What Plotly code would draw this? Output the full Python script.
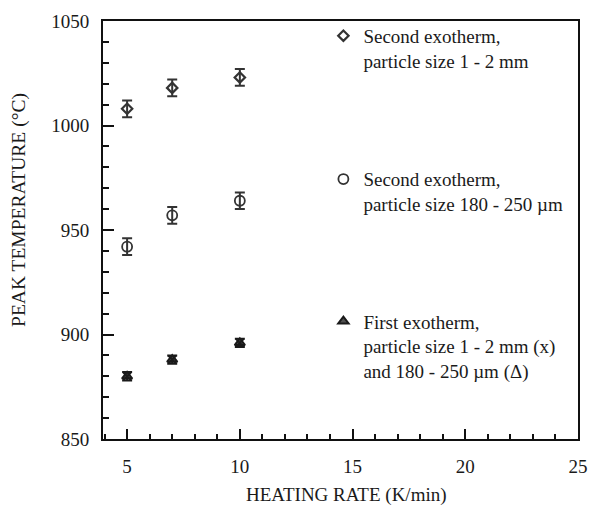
import plotly.graph_objects as go

heating_rate = [5, 7, 10]
second_1_2mm = [1008, 1018, 1023]
second_1_2mm_err = [4, 4, 4]
second_180_250um = [942, 957, 964]
second_180_250um_err = [4, 4, 4]
first_1_2mm = [880, 888, 896]
first_180_250um = [880, 888, 896]
first_err = [2, 2, 2]

name_a = "Second exotherm,<br>particle size 1 - 2 mm"
name_b = "Second exotherm,<br>particle size 180 - 250 µm"
name_c = "First exotherm,<br>particle size 1 - 2 mm (x)<br>and 180 - 250 µm (Δ)"
x_title = "HEATING RATE (K/min)"
y_title = "PEAK TEMPERATURE (°C)"

FONT = "Liberation Serif, Times New Roman, serif"
MK = "#333333"

fig = go.Figure()
fig.add_trace(go.Scatter(
    x=heating_rate, y=second_1_2mm, mode="markers", name=name_a,
    marker=dict(symbol="diamond-open", size=8, color=MK, line=dict(width=2.2, color=MK)),
    error_y=dict(type="data", array=second_1_2mm_err, color=MK, thickness=2, width=5),
    legend="legend"))
fig.add_trace(go.Scatter(
    x=heating_rate, y=second_180_250um, mode="markers", name=name_b,
    marker=dict(symbol="circle-open", size=10, color=MK, line=dict(width=1.8, color=MK)),
    error_y=dict(type="data", array=second_180_250um_err, color=MK, thickness=2, width=5),
    legend="legend2"))
fig.add_trace(go.Scatter(
    x=heating_rate, y=first_180_250um, mode="markers", name=name_c,
    marker=dict(symbol="triangle-up", size=9, color="#505050", line=dict(width=2, color="#1a1a1a")),
    error_y=dict(type="data", array=first_err, color="#1a1a1a", thickness=2, width=5),
    legend="legend3"))
fig.add_trace(go.Scatter(
    x=heating_rate, y=first_1_2mm, mode="markers", name="x", showlegend=False,
    marker=dict(symbol="x-thin-open", size=8, color="#1a1a1a", line=dict(width=2, color="#1a1a1a"))))

leg_common = dict(xanchor="left", yanchor="top", bgcolor="rgba(0,0,0,0)", borderwidth=0,
                  font=dict(family=FONT, size=19, color="#1a1a1a"), valign="top",
                  itemclick=False)

fig.update_layout(
    width=590, height=507,
    margin=dict(l=103, r=12, t=21, b=68),
    paper_bgcolor="white", plot_bgcolor="white",
    font=dict(family=FONT, size=19, color="#1a1a1a"),
    showlegend=True,
    legend=dict(x=0.464, y=1.01, **leg_common),
    legend2=dict(x=0.464, y=0.667, **leg_common),
    legend3=dict(x=0.464, y=0.327, **leg_common),
    xaxis=dict(
        range=[3.93, 25], showgrid=False, zeroline=False, automargin=False,
        showline=True, linecolor="#111", linewidth=2, mirror=True,
        ticks="inside", ticklen=10, tickwidth=2, tickcolor="#111",
        tick0=5, dtick=5, ticklabelstandoff=9,
        minor=dict(ticks="inside", ticklen=5, tickwidth=2, tickcolor="#111", dtick=1, tick0=5, showgrid=False),
        tickfont=dict(size=19)),
    yaxis=dict(
        range=[850, 1050], showgrid=False, zeroline=False, automargin=False,
        showline=True, linecolor="#111", linewidth=2, mirror=True,
        ticks="inside", ticklen=11, tickwidth=2, tickcolor="#111",
        tick0=850, dtick=50, ticklabelstandoff=8,
        minor=dict(ticks="inside", ticklen=6, tickwidth=2, tickcolor="#111", dtick=10, tick0=850, showgrid=False),
        tickfont=dict(size=19)),
    annotations=[
        dict(text=x_title, xref="paper", yref="paper", x=0.512, y=0, yshift=-56,
             xanchor="center", yanchor="middle", showarrow=False, borderpad=0,
             font=dict(size=19)),
        dict(text=y_title, xref="paper", yref="paper", x=0, y=0.548, xshift=-84,
             xanchor="center", yanchor="middle", textangle=-90, showarrow=False,
             borderpad=0, font=dict(size=19.5)),
    ],
)

fig.write_html("out.html", config={"displayModeBar": False},
               post_script="document.body.style.margin='0';document.documentElement.style.overflow='hidden';")
